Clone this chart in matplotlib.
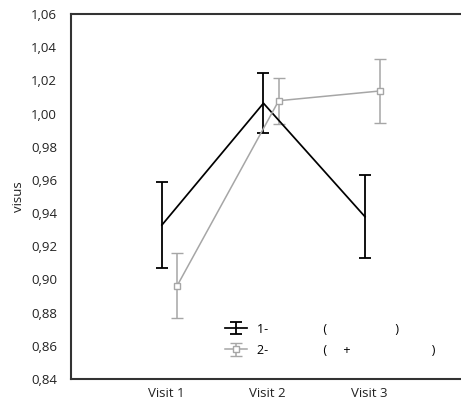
import numpy as np
import matplotlib
matplotlib.use("Agg")
import matplotlib.pyplot as plt
from matplotlib.ticker import FuncFormatter

plt.rcParams['font.family'] = ['Open Sans', 'DejaVu Sans']

visits = ["Visit 1", "Visit 2", "Visit 3"]
g1_mean = [0.9328, 1.0062, 0.9378]
g1_err = [0.0259, 0.0181, 0.0251]
g2_mean = [0.8962, 1.0077, 1.0136]
g2_err = [0.0196, 0.0140, 0.0193]
g1_label = "1-                 (                     )"
g2_label = "2-                 (     +                         )"

x = np.arange(1, len(visits) + 1)

fig = plt.figure(figsize=(4.61, 4.11), dpi=100)
ax = fig.add_axes([0.154, 0.078, 0.846, 0.888])

ax.errorbar(x - 0.04, g1_mean, yerr=g1_err, color="black", lw=1.25,
            elinewidth=1.3, capsize=4.5, capthick=1.3, label=g1_label)
ax.errorbar(x + 0.11, g2_mean, yerr=g2_err, color="#a6a6a6", lw=1.1,
            elinewidth=1.1, capsize=4, capthick=1.1, marker="s",
            markersize=5, markerfacecolor="white", markeredgecolor="#a6a6a6",
            markeredgewidth=1.0, label=g2_label)

ax.set_xlim(0.064, 3.906)
ax.set_ylim(0.84, 1.06)
ax.set_yticks(np.arange(0.84, 1.0601, 0.02))
ax.yaxis.set_major_formatter(FuncFormatter(lambda v, p: f"{v:.2f}".replace(".", ",")))
ax.set_xticks(x)
ax.set_xticklabels(visits)
ax.tick_params(length=0, labelsize=9.5, colors="#222222", pad=6)
ax.tick_params(axis="y", pad=10)

for s in ["left", "top", "bottom"]:
    ax.spines[s].set_color("#333333")
    ax.spines[s].set_linewidth(1.5)
ax.spines["right"].set_visible(False)

ax.set_ylabel("visus", fontsize=9.5, color="#222222", labelpad=4)

ax.legend(loc="lower left", bbox_to_anchor=(0.365, 0.03), frameon=False,
          fontsize=9, handlelength=1.8, labelspacing=0.65)

fig.savefig("out.png", dpi=100)
